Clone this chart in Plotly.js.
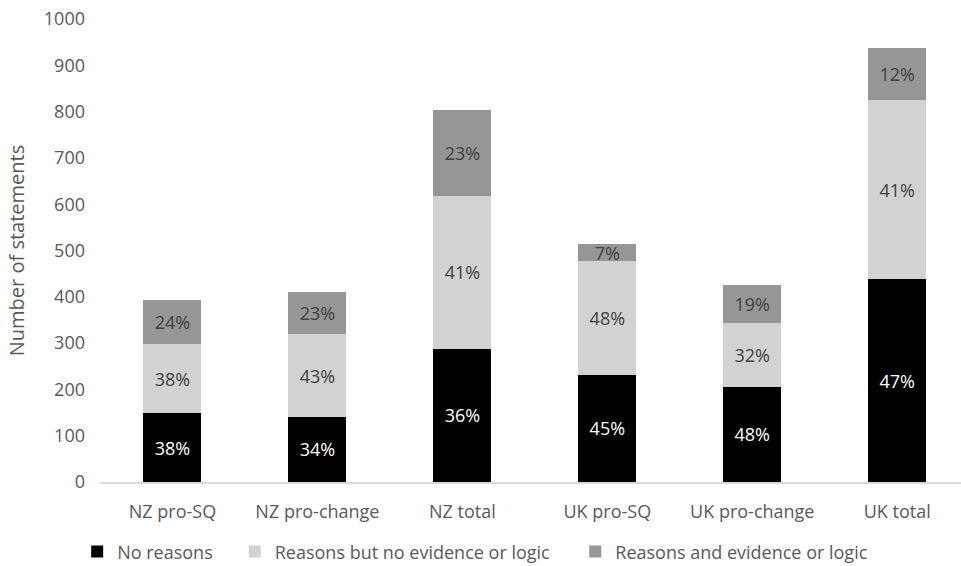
<!DOCTYPE html>
<html>
<head>
<meta charset="utf-8">
<script src="https://cdn.plot.ly/plotly-3.0.1.min.js"></script>
<style>html,body{margin:0;padding:0;background:#fff;overflow:hidden}#chart{width:961px;height:566px}</style>
</head>
<body>
<div id="chart"></div>
<script>
var categories = ["NZ pro-SQ", "NZ pro-change", "NZ total", "UK pro-SQ", "UK pro-change", "UK total"];
var noReasons = [148, 141, 288, 232, 206, 438];
var reasonsNoEvidence = [150, 178, 329, 245, 138, 386];
var reasonsEvidence = [96, 91, 186, 36, 81, 114];
var noReasonsPct = ["38%", "34%", "36%", "45%", "48%", "47%"];
var reasonsNoEvidencePct = ["38%", "43%", "41%", "48%", "32%", "41%"];
var reasonsEvidencePct = ["24%", "23%", "23%", "7%", "19%", "12%"];
var seriesNames = ["No reasons", "Reasons but no evidence or logic", "Reasons and evidence or logic"];
var yTicks = [0, 100, 200, 300, 400, 500, 600, 700, 800, 900, 1000];

var font = "Open Sans, Noto Sans, sans-serif";
var grey = "#595959";
function mk(name, y, txt, color, tcolor, lg) {
  return {
    type: "bar", name: name, x: categories, y: y, text: txt,
    textposition: "inside", insidetextanchor: "middle", textangle: 0,
    texttemplate: "%{text}", constraintext: "none",
    insidetextfont: {family: font, size: 18, color: tcolor},
    marker: {color: color, line: {width: 0}},
    legend: lg,
    hoverinfo: "skip"
  };
}
var data = [
  mk(seriesNames[0], noReasons, noReasonsPct, "#000000", "#ffffff", "legend"),
  mk(seriesNames[1], reasonsNoEvidence, reasonsNoEvidencePct, "#d2d2d2", "#404040", "legend2"),
  mk(seriesNames[2], reasonsEvidence, reasonsEvidencePct, "#969696", "#404040", "legend3")
];
function lg(x) {
  return {
    orientation: "h", x: x, xanchor: "left", y: -0.111, yanchor: "top",
    font: {family: font, size: 18, color: grey},
    itemclick: false, itemdoubleclick: false, bgcolor: "rgba(0,0,0,0)"
  };
}
var layout = {
  width: 961, height: 566,
  margin: {l: 100, r: 0, t: 19, b: 84, autoexpand: false},
  barmode: "stack", bargap: 0.6,
  paper_bgcolor: "#fff", plot_bgcolor: "#fff",
  font: {family: font, size: 18, color: grey},
  uniformtext: {mode: "show", minsize: 18},
  xaxis: {
    range: [-0.5, 5.44], showgrid: false, zeroline: false,
    showline: true, linecolor: "#d9d9d9", linewidth: 2,
    ticks: "", ticklabelstandoff: 12, automargin: false,
    tickfont: {family: font, size: 18, color: grey},
    fixedrange: true
  },
  yaxis: {
    range: [0, 1000], tickvals: yTicks, showgrid: false, zeroline: false,
    showline: false, ticks: "", ticklabelstandoff: 14, automargin: false,
    tickfont: {family: font, size: 18, color: grey},
    title: {text: "Number of statements", font: {family: font, size: 20, color: grey}, standoff: 13},
    fixedrange: true
  },
  showlegend: true,
  legend: lg(-0.0265),
  legend2: lg(0.1565),
  legend3: lg(0.552)
};
Plotly.newPlot("chart", data, layout, {displayModeBar: false, staticPlot: true});
</script>
</body>
</html>
